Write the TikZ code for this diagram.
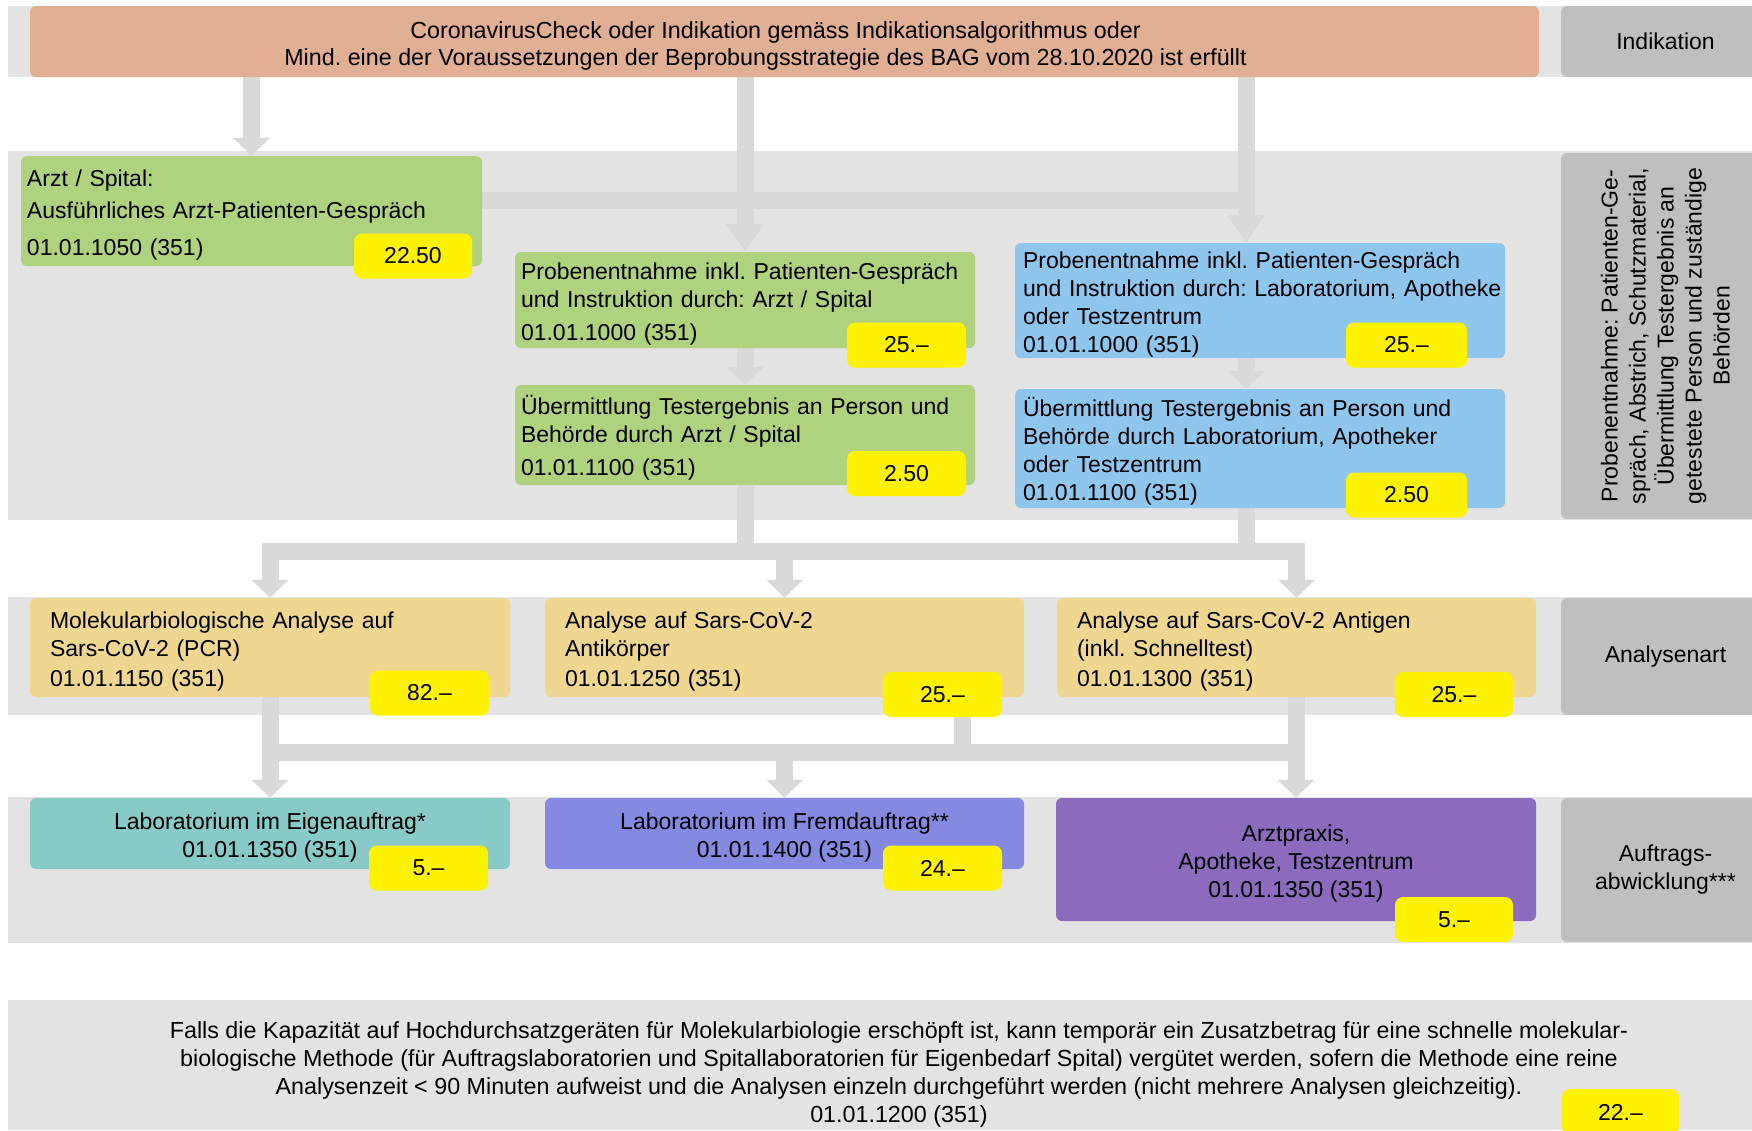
\documentclass[tikz,border=0pt]{standalone}
\usepackage{fontspec}
\setmainfont{Liberation Sans}
\usetikzlibrary{arrows.meta}

\definecolor{bandgray}{HTML}{E4E3E4}
\definecolor{sidegray}{HTML}{BFBFBF}
\definecolor{flowgray}{HTML}{D9D9D9}
\definecolor{indorange}{HTML}{E1AF94}
\definecolor{arztgreen}{HTML}{AFD27F}
\definecolor{laborblue}{HTML}{8FC6EE}
\definecolor{analysebeige}{HTML}{EFD691}
\definecolor{eigenteal}{HTML}{88CAC7}
\definecolor{fremdblue}{HTML}{8489E2}
\definecolor{praxisviolet}{HTML}{8C6BBF}

\pgfdeclarelayer{bands}
\pgfdeclarelayer{links}
\pgfsetlayers{bands,links,main}

\newcommand{\lnstrut}{\rule[-5pt]{0pt}{30pt}}

\tikzset{
  box/.style={rounded corners=6pt, inner xsep=6pt, inner ysep=0pt, align=left,
    execute at begin node=\lnstrut, execute at end node=\lnstrut},
  price/.style={fill=yellow, rounded corners=8pt, minimum width=118pt, minimum height=45pt, inner sep=0pt},
  sidebox/.style={fill=sidegray, rounded corners=6pt, minimum width=209pt, align=center, inner sep=0pt},
  flow/.style={draw=flowgray, line width=17pt},
  flowtip/.style={-{Triangle[width=36pt,length=18pt]}},
  longtip/.style={-{Triangle[width=36pt,length=28pt]}}
}

\begin{document}
\frenchspacing
\begin{tikzpicture}[x=1pt, y=-1pt, every node/.style={font=\fontsize{23}{28}\selectfont}]
\useasboundingbox (0,0) rectangle (1752,1130);
\clip (0,0) rectangle (1752,1130);

% bands
\begin{pgfonlayer}{bands}
  \fill[bandgray] (8,6) rectangle (1752,77);
  \fill[bandgray] (8,151) rectangle (1752,520);
  \fill[bandgray] (8,597) rectangle (1752,715);
  \fill[bandgray] (8,797) rectangle (1752,943);
  \fill[bandgray] (8,1000) rectangle (1752,1130);
\end{pgfonlayer}

% Indikation
\node[box, fill=indorange, align=center, minimum width=1509pt, minimum height=71pt,
  font=\fontsize{23.3}{27}\selectfont] (top) at (784.5,41.5)
  {\lnstrut CoronavirusCheck oder Indikation gemäss Indikationsalgorithmus oder\hspace*{18pt}\\Mind. eine der Voraussetzungen der Beprobungsstrategie des BAG vom 28.10.2020 ist erfüllt\hspace*{38pt}};
\node[sidebox, minimum height=71pt] (sideInd) at (1665.5,41.5) {Indikation};

% Probenentnahme
\node[box, fill=arztgreen, text width=449pt, minimum height=110pt] (arzt) at (251.5,211)
  {Arzt / Spital:\\[4pt]Ausführliches Arzt-Patienten-Gespräch\\[7pt]01.01.1050 (351)};
\node[price] (pArzt) at (413,256) {22.50};

\node[box, fill=arztgreen, text width=448pt, minimum height=96pt] (probeA) at (745,300)
  {Probenentnahme inkl. Patienten-Gespräch\\und Instruktion durch: Arzt / Spital\\[3pt]01.01.1000 (351)};
\node[price, minimum width=119pt] (pProbeA) at (906.5,345) {25.–};

\node[box, fill=arztgreen, text width=448pt, minimum height=100pt] (sendA) at (745,435)
  {Übermittlung Testergebnis an Person und\\Behörde durch Arzt / Spital\\[2pt]01.01.1100 (351)};
\node[price, minimum width=119pt] (pSendA) at (906.5,473.5) {2.50};

\node[box, fill=laborblue, inner xsep=8pt, text width=474pt, minimum height=115pt] (probeL) at (1260,300.5)
  {Probenentnahme inkl. Patienten-Gespräch\\\mbox{und Instruktion durch: Laboratorium, Apotheke}\\oder Testzentrum\\01.01.1000 (351)};
\node[price, minimum width=121pt] (pProbeL) at (1406.5,345) {25.–};

\node[box, fill=laborblue, inner xsep=8pt, text width=474pt, minimum height=119pt] (sendL) at (1260,448.5)
  {Übermittlung Testergebnis an Person und\\Behörde durch Laboratorium, Apotheker\\oder Testzentrum\\01.01.1100 (351)};
\node[price, minimum width=121pt] (pSendL) at (1406.5,495) {2.50};

\node[sidebox, rotate=90, minimum width=366pt, minimum height=209pt] (sideProbe) at (1665.5,336)
  {Probenentnahme: Patienten-Ge-\\spräch, Abstrich, Schutzmaterial,\\Übermittlung Testergebnis an\\getestete Person und zuständige\\Behörden};

% Analysenart
\node[box, fill=analysebeige, inner xsep=20pt, text width=440pt, minimum height=99pt] (anaPCR) at (270,647.5)
  {Molekularbiologische Analyse auf\\Sars-CoV-2 (PCR)\\01.01.1150 (351)};
\node[price, minimum width=119pt] (pPCR) at (429.5,693) {82.–};

\node[box, fill=analysebeige, inner xsep=20pt, text width=439pt, minimum height=99pt] (anaAK) at (784.5,647.5)
  {Analyse auf Sars-CoV-2\\Antikörper\\01.01.1250 (351)};
\node[price, minimum width=119pt] (pAK) at (942.5,694.5) {25.–};

\node[box, fill=analysebeige, inner xsep=20pt, text width=439pt, minimum height=99pt] (anaAG) at (1296.5,647.5)
  {Analyse auf Sars-CoV-2 Antigen\\(inkl. Schnelltest)\\01.01.1300 (351)};
\node[price] (pAG) at (1454,694.5) {25.–};

\node[sidebox, minimum height=117pt] (sideAna) at (1665.5,656.5) {Analysenart};

% Auftragsabwicklung
\node[box, fill=eigenteal, align=center, minimum width=480pt, minimum height=71pt] (labE) at (270,833.5)
  {\lnstrut Laboratorium im Eigenauftrag*\\01.01.1350 (351)};
\node[price, minimum width=119pt] (pLabE) at (428.5,868) {5.–};

\node[box, fill=fremdblue, align=center, minimum width=479pt, minimum height=71pt] (labF) at (784.5,833.5)
  {\lnstrut Laboratorium im Fremdauftrag**\\01.01.1400 (351)};
\node[price, minimum width=119pt] (pLabF) at (942.5,868) {24.–};

\node[box, fill=praxisviolet, align=center, minimum width=480pt, minimum height=123pt] (praxis) at (1296,859.5)
  {\lnstrut Arztpraxis,\\Apotheke, Testzentrum\\01.01.1350 (351)};
\node[price] (pPraxis) at (1454,919.5) {5.–};

\node[sidebox, minimum height=144pt] (sideAuf) at (1665.5,870) {Auftrags-\\abwicklung***};

% Zusatzbetrag
\node[align=center, inner sep=0pt, font=\fontsize{23.3}{28}\selectfont,
  execute at end node=\lnstrut] (note) at (899,1070)
  {\lnstrut Falls die Kapazität auf Hochdurchsatzgeräten für Molekularbiologie erschöpft ist, kann temporär ein Zusatzbetrag für eine schnelle molekular-\\
   biologische Methode (für Auftragslaboratorien und Spitallaboratorien für Eigenbedarf Spital) vergütet werden, sofern die Methode eine reine\\
   Analysenzeit < 90 Minuten aufweist und die Analysen einzeln durchgeführt werden (nicht mehrere Analysen gleichzeitig).\\
   01.01.1200 (351)};
\node[price, minimum width=117pt, minimum height=46pt] (pNote) at (1620.5,1112) {22.–};

% connectors
\coordinate (colL) at (1246,0);
\coordinate (colK) at (962,0);
\coordinate (barA) at (0,200);
\coordinate (barB) at (0,551);
\coordinate (barC) at (0,752);

\begin{pgfonlayer}{links}
  \draw[flow, flowtip] (top.south -| arzt.north) -- (arzt.north);
  \draw[flow, longtip] (top.south -| probeA.north) -- (probeA.north);
  \draw[flow, longtip] (top.south -| colL) -- (probeL.north -| colL);
  \draw[flow] (arzt.east |- barA) -- (colL |- barA);
  \draw[flow, flowtip] (probeA.south) -- (sendA.north);
  \draw[flow, flowtip] (probeL.south -| colL) -- (sendL.north -| colL);

  \draw[flow] (sendA.south) -- (sendA.south |- barB);
  \draw[flow] (sendL.south -| colL) -- (colL |- barB);
  \draw[flow, {Triangle[width=36pt,length=18pt]}-{Triangle[width=36pt,length=18pt]}]
    (anaPCR.north) -- (anaPCR.north |- barB) -- (anaAG.north |- barB) -- (anaAG.north);
  \draw[flow, flowtip] (anaAK.north |- barB) -- (anaAK.north);

  \draw[flow, flowtip] (anaPCR.south) -- (labE.north);
  \draw[flow, flowtip] (anaAG.south -| praxis.north) -- (praxis.north);
  \draw[flow] (anaPCR.south |- barC) -- (praxis.north |- barC);
  \draw[flow] (anaAK.south -| colK) -- (colK |- barC);
  \draw[flow, flowtip] (labF.north |- barC) -- (labF.north);
\end{pgfonlayer}

\end{tikzpicture}
\end{document}
